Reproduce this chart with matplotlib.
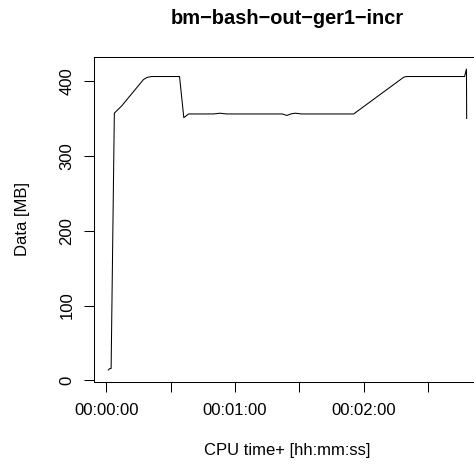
"""
plot.py — memory usage over CPU time for bm-bash-out-ger1-incr (R base-graphics look).
"""

import matplotlib
matplotlib.use("Agg")          # headless
import matplotlib.pyplot as plt
from matplotlib.ticker import FixedLocator, FixedFormatter

TITLE = "bm\u2212bash\u2212out\u2212ger1\u2212incr"
X_LABEL = "CPU time+ [hh:mm:ss]"
Y_LABEL = "Data [MB]"

# CPU time in seconds, data in MB
cpu_time_s = [0.9, 1.7, 2.2, 3.7, 7.2, 17.3, 19.1, 21.2, 34.1, 36.1, 38.3,
              50.0, 53.0, 56.0, 82.0, 84.2, 86.0, 88.0, 91.0, 115.3,
              138.6, 140.0, 167.0, 167.9, 168.0]
data_mb = [14, 16, 16, 357, 367, 402, 405, 406, 406, 351, 356,
           356, 357, 356, 356, 354, 356, 357, 356, 356,
           405, 406, 406, 416, 350]

x_ticks = [0, 30, 60, 90, 120, 150]
x_tick_labels = ["00:00:00", "", "00:01:00", "", "00:02:00", ""]
y_ticks = [0, 100, 200, 300, 400]

plt.rcParams["font.family"] = ["Liberation Sans", "DejaVu Sans"]

W, H = 474, 468
fig = plt.figure(figsize=(W / 100, H / 100), dpi=100)
# plot region: left 94px, right past the image edge (481px), top 57px, bottom 382px
ax = fig.add_axes([94 / W, 1 - 382 / H, (481 - 94) / W, (382 - 57) / H])

ax.plot(cpu_time_s, data_mb, color="black", linewidth=0.75)
ax.margins(x=0.04, y=0.04)

ax.xaxis.set_major_locator(FixedLocator(x_ticks))
ax.xaxis.set_major_formatter(FixedFormatter(x_tick_labels))
ax.yaxis.set_major_locator(FixedLocator(y_ticks))
ax.tick_params(axis="both", direction="out", length=7.2, width=0.75,
               labelsize=12, color="black")
ax.tick_params(axis="x", pad=8)
ax.tick_params(axis="y", pad=7)
for lbl in ax.get_yticklabels():
    lbl.set_rotation(90)
    lbl.set_va("center")
for sp in ax.spines.values():
    sp.set_linewidth(0.75)

fig.text(287.5 / W, 1 - 18 / H, TITLE, ha="center", va="center",
         fontsize=14.4, fontweight="bold")
fig.text(287.5 / W, 1 - 450 / H, X_LABEL, ha="center", va="center", fontsize=12)
fig.text(23 / W, 1 - 219 / H, Y_LABEL, ha="center", va="center", fontsize=12,
         rotation=90)

fig.savefig("out.png", dpi=100)
plt.close(fig)
